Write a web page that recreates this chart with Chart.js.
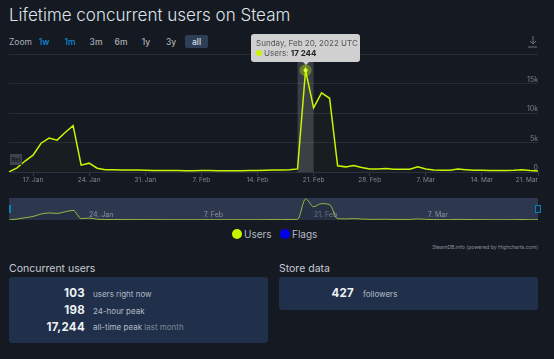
<!DOCTYPE html>
<html>
<head>
<meta charset="utf-8">
<script src="https://cdn.jsdelivr.net/npm/chart.js@4"></script>
<style>
html,body{margin:0;padding:0;background:#151922;}
body{width:554px;height:359px;position:relative;overflow:hidden;font-family:Inter,sans-serif;color:#c6cbd2;}
.abs{position:absolute;white-space:nowrap;}
canvas{position:absolute;left:0;}
#title{left:9px;top:3px;font-size:17px;font-weight:300;color:#dfe3e8;line-height:24px;}
.zbtn{top:37px;font-size:8.5px;line-height:10px;font-weight:500;color:#a9afb8;transform:translateX(-50%);}
.blue{color:#0b8fdc;}
#allbox{left:185px;top:35px;width:23px;height:13px;background:#2f3e57;border-radius:2px;}
#flag{left:10px;top:154px;width:12px;height:11px;background:#3f434c;color:#151922;font-size:6px;font-weight:700;line-height:11px;text-align:center;}
#navbg{left:9px;top:198px;width:529px;height:22px;background:#2d384f;}
.navh{top:205px;width:5px;height:8px;background:#0b7fb8;}
.ldot{top:229px;width:10px;height:10px;border-radius:50%;}
.ltxt{top:228px;font-size:10px;line-height:12px;color:#b6bcc4;}
#credit{right:16px;top:243px;font-size:5.1px;line-height:8px;color:#8b9099;}
.head{top:262px;font-size:10.5px;line-height:14px;color:#c6cbd2;}
.card{top:277px;width:259px;background:#20304a;border-radius:3px;}
.num{font-size:11.5px;font-weight:700;color:#eef1f4;text-align:right;line-height:14px;letter-spacing:.3px;}
.lab{font-size:8px;color:#b4bbc5;line-height:14px;}
.lab span{color:#7d8796;}
#tip{width:109px;height:28px;background:#d0d0d0;border-radius:3px;top:34px;color:#555;font-size:8px;line-height:10px;}
#tip:after{content:"";position:absolute;left:50%;margin-left:-3px;bottom:-3px;border:3px solid transparent;border-top-color:#d0d0d0;border-bottom:0;}
#tip div{position:absolute;left:5px;}
#tip b{color:#222;}
#tipdot{display:inline-block;width:6px;height:6px;border-radius:50%;background:#c8f500;margin-right:2px;}
#lastTick{top:176px;font-size:6.500px;line-height:9px;color:#80858e;}
</style>
</head>
<body>
<div class="abs" id="title">Lifetime concurrent users on Steam</div>
<div class="abs" id="allbox"></div>
<div class="abs" style="left:9px;top:37px;font-size:8.5px;line-height:10px;color:#a9afb8;">Zoom</div>
<div class="abs zbtn blue" style="left:44px">1w</div>
<div class="abs zbtn blue" style="left:70px">1m</div>
<div class="abs zbtn" style="left:96px">3m</div>
<div class="abs zbtn" style="left:121px">6m</div>
<div class="abs zbtn" style="left:146px">1y</div>
<div class="abs zbtn" style="left:171px">3y</div>
<div class="abs zbtn" style="left:196.500px;color:#d8dde3">all</div>
<svg class="abs" style="left:527px;top:35px" width="12" height="13" viewBox="0 0 12 13" fill="none" stroke="#6d727b" stroke-width="1"><path d="M6 1v8M3 6l3 3 3-3M1 12h9"/></svg>

<canvas id="mainChart" width="554" height="195" style="top:0"></canvas>
<div class="abs" id="flag">Rel</div>
<div class="abs" id="lastTick"></div>

<div class="abs" id="navbg"></div>
<canvas id="navChart" width="554" height="22" style="top:198px"></canvas>
<div class="abs navh" style="left:9px;width:2px"></div>
<div class="abs navh" style="left:535px;width:4px;background:#1c2738;border:1px solid #0b7fb8;height:6px"></div>

<div class="abs ldot" style="left:232px;background:#c8f500"></div>
<div class="abs ltxt" style="left:244px">Users</div>
<div class="abs ldot" style="left:280px;background:#0000ee"></div>
<div class="abs ltxt" style="left:292px">Flags</div>
<div class="abs" id="credit">SteamDB.info (powered by Highcharts.com)</div>

<div class="abs head" style="left:9px">Concurrent users</div>
<div class="abs card" style="left:9px;height:66px"></div>
<div class="abs num" style="right:469px;top:286px">103</div>
<div class="abs lab" style="left:93px;top:287px">users right now</div>
<div class="abs num" style="right:469px;top:303px">198</div>
<div class="abs lab" style="left:93px;top:304px">24-hour peak</div>
<div class="abs num" style="right:469px;top:320px">17,244</div>
<div class="abs lab" style="left:93px;top:320px">all-time peak <span>last month</span></div>

<div class="abs head" style="left:279px">Store data</div>
<div class="abs card" style="left:279px;height:33px"></div>
<div class="abs num" style="right:200px;top:286px">427</div>
<div class="abs lab" style="left:363px;top:287px">followers</div>

<div class="abs" id="tip">
  <div style="top:4px">Sunday, Feb 20, 2022 UTC</div>
  <div style="top:14px"><span id="tipdot"></span>Users: <b>17 244</b></div>
</div>

<script>
const days = [
  '14. Jan','15. Jan','16. Jan','17. Jan','18. Jan','19. Jan','20. Jan','21. Jan','22. Jan','23. Jan','24. Jan','25. Jan','26. Jan','27. Jan','28. Jan','29. Jan','30. Jan','31. Jan',
  '1. Feb','2. Feb','3. Feb','4. Feb','5. Feb','6. Feb','7. Feb','8. Feb','9. Feb','10. Feb','11. Feb','12. Feb','13. Feb','14. Feb','15. Feb','16. Feb','17. Feb','18. Feb','19. Feb','20. Feb','21. Feb','22. Feb','23. Feb','24. Feb','25. Feb','26. Feb','27. Feb','28. Feb',
  '1. Mar','2. Mar','3. Mar','4. Mar','5. Mar','6. Mar','7. Mar','8. Mar','9. Mar','10. Mar','11. Mar','12. Mar','13. Mar','14. Mar','15. Mar','16. Mar','17. Mar','18. Mar','19. Mar','20. Mar','21. Mar'
];
const users = [
  30,700,1860,2850,4880,5750,5400,6700,7850,1160,1500,640,400,370,350,340,320,290,
  270,250,240,235,230,230,235,240,225,215,210,225,235,240,285,340,345,400,520,17244,10860,13400,12500,1050,870,1100,750,520,
  520,580,465,465,465,870,520,350,290,290,520,400,290,290,235,235,235,290,400,235,180
];
const tickLabels = ['17. Jan','24. Jan','31. Jan','7. Feb','14. Feb','21. Feb','28. Feb','7. Mar','14. Mar','21. Mar'];
const navLabels = ['24. Jan','7. Feb','21. Feb','7. Mar'];
const yTicks = [0,5000,10000,15000,20000];

const peak = users.indexOf(Math.max(...users));

// highcharts style hover band and halo on the peak
const hoverBand = {
    id: 'hoverBand',
    beforeDatasetsDraw(chart) {
        const x = chart.scales.x, area = chart.chartArea, c = chart.ctx;
        const px = x.getPixelForValue(peak), w = x.getPixelForValue(1) - x.getPixelForValue(0);
        c.save();
        c.fillStyle = 'rgba(200,205,215,0.2)';
        c.fillRect(px - w, area.top, w * 2, area.bottom - area.top);
        c.restore();
    },
    afterDatasetsDraw(chart) {
        const pt = chart.getDatasetMeta(0).data[peak], c = chart.ctx;
        c.save();
        c.fillStyle = 'rgba(200,245,0,0.35)';
        c.beginPath();
        c.arc(pt.x, pt.y, 6, 0, Math.PI * 2);
        c.fill();
        c.restore();
    }
};

const mainChart = new Chart(document.getElementById('mainChart').getContext('2d'), {
    type: 'line',
    data: {
        labels: days,
        datasets: [{
            label: 'Users',
            data: users,
            borderColor: '#c8f500',
            borderWidth: 1.5,
            backgroundColor: 'rgba(200,245,0,0.02)',
            fill: 'origin',
            tension: 0,
            pointRadius: ctx => ctx.dataIndex === peak ? 2 : 0,
            pointBackgroundColor: '#e6ff60',
            pointBorderWidth: 0
        }]
    },
    options: {
        responsive: false,
        animation: false,
        events: [],
        layout: { padding: { left: 9, right: 16, top: 54, bottom: 0 } },
        plugins: { legend: { display: false }, tooltip: { enabled: false } },
        scales: {
            x: {
                afterBuildTicks: s => { s.ticks = s.ticks.filter(t => tickLabels.includes(days[t.value])); },
                afterFit: s => { s.height = 23; },
                grid: { drawOnChartArea: false, tickLength: 4, tickColor: '#333b4a' },
                border: { color: '#2a3140' },
                ticks: {
                    autoSkip: false,
                    maxRotation: 0,
                    padding: 0,
                    color: '#80858e',
                    font: { family: 'Inter', size: 6.5 },
                    callback: function (v) { return days[v] === '21. Mar' ? '' : days[v]; }
                }
            },
            y: {
                position: 'right',
                min: 0,
                max: 20000,
                afterBuildTicks: s => { s.ticks = yTicks.map(value => ({ value })); },
                grid: { color: '#282c35', drawTicks: false },
                border: { display: false },
                ticks: {
                    mirror: true,
                    padding: 0,
                    labelOffset: -4,
                    color: '#7d828b',
                    font: { family: 'Inter', size: 7 },
                    callback: v => v === 0 ? '0' : v === 20000 ? '' : (v / 1000) + 'k'
                }
            }
        }
    },
    plugins: [hoverBand]
});

// things that follow the scale but have no place in the canvas
const xs = mainChart.scales.x;
const lastTick = document.getElementById('lastTick');
lastTick.textContent = tickLabels[tickLabels.length - 1];
lastTick.style.right = (554 - xs.getPixelForValue(days.length - 1)) + 'px';
document.getElementById('tip').style.left = (xs.getPixelForValue(peak) - 54.5) + 'px';

const navChart = new Chart(document.getElementById('navChart').getContext('2d'), {
    type: 'line',
    data: {
        labels: days,
        datasets: [{
            data: users,
            borderColor: 'rgba(200,240,60,0.7)',
            borderWidth: 1,
            backgroundColor: 'rgba(21,25,34,0.25)',
            fill: 'origin',
            tension: 0.35,
            cubicInterpolationMode: 'monotone',
            pointRadius: 0
        }]
    },
    options: {
        responsive: false,
        animation: false,
        events: [],
        layout: { padding: { left: 9, right: 16, top: 0, bottom: 0 } },
        plugins: { legend: { display: false }, tooltip: { enabled: false } },
        scales: {
            x: {
                afterBuildTicks: s => { s.ticks = s.ticks.filter(t => navLabels.includes(days[t.value])); },
                afterFit: s => { s.height = 0; },
                grid: { display: false, drawTicks: false },
                border: { display: false },
                ticks: {
                    autoSkip: false,
                    mirror: true,
                    maxRotation: 0,
                    padding: 1,
                    labelOffset: 12,
                    color: '#8b93a3',
                    font: { family: 'Inter', size: 7 }
                }
            },
            y: { display: false, min: 0, max: 18000 }
        }
    }
});
</script>
</body>
</html>
